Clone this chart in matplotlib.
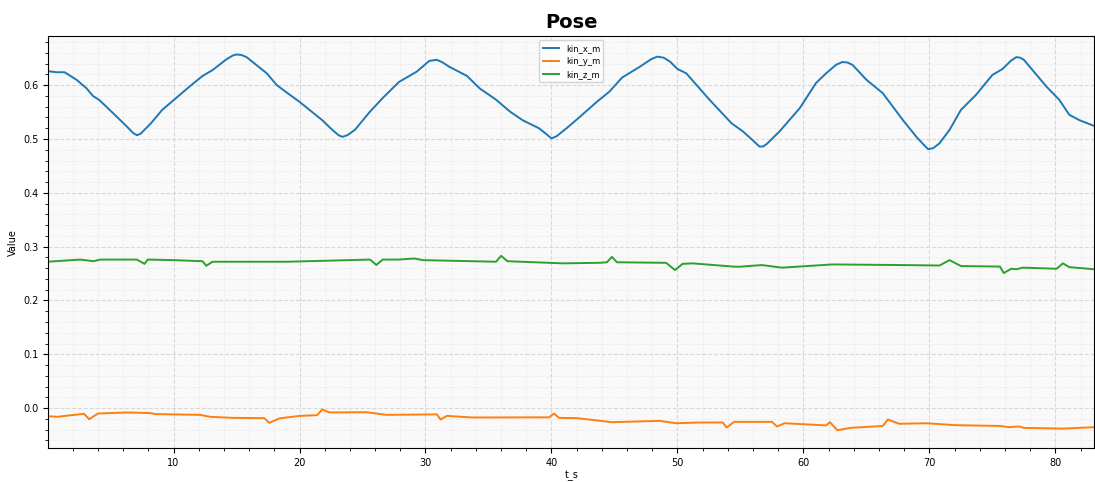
import matplotlib
matplotlib.use('Agg')
import matplotlib.pyplot as plt
from matplotlib.ticker import MultipleLocator

# kin_x_m
t_x = [0, 0.7, 1.35, 2.3, 3.1, 3.6, 4.1, 5.2, 6.3, 6.8, 7.1, 7.4, 8.2, 9.1, 10.2, 11.3, 12.3, 13.1,
       14.2, 14.7, 15.0, 15.4, 15.8, 17.4, 18.2, 19.0, 20.0, 21.8, 22.6, 23.1, 23.4, 23.8, 24.4,
       25.6, 26.6, 27.9, 29.3, 30.3, 30.9, 31.3, 31.9, 33.3, 34.3, 35.6, 36.7, 37.7, 39.0, 39.6,
       40.0, 40.4, 41.2, 42.2, 43.6, 44.6, 45.6, 47.0, 47.9, 48.4, 48.9, 49.4, 50.0, 50.7, 52.5,
       53.3, 54.3, 55.2, 56.1, 56.5, 56.8, 57.1, 58.1, 59.7, 61.0, 61.8, 62.6, 63.1, 63.5, 63.9,
       65.0, 66.3, 67.9, 69.0, 69.6, 69.9, 70.3, 70.8, 71.6, 72.5, 73.7, 75.0, 75.8, 76.5, 76.9,
       77.2, 77.5, 79.3, 80.3, 81.1, 81.9, 83.1]
kin_x_m = [0.626, 0.624, 0.624, 0.610, 0.594, 0.580, 0.5725, 0.548, 0.523, 0.511, 0.507, 0.510,
           0.529, 0.554, 0.576, 0.598, 0.617, 0.628, 0.648, 0.655, 0.657, 0.656, 0.652, 0.622,
           0.600, 0.586, 0.569, 0.535, 0.517, 0.507, 0.504, 0.507, 0.517, 0.551, 0.576, 0.606,
           0.625, 0.645, 0.647, 0.643, 0.634, 0.617, 0.594, 0.573, 0.551, 0.535, 0.520, 0.509,
           0.501, 0.505, 0.520, 0.540, 0.569, 0.588, 0.614, 0.634, 0.648, 0.653, 0.651, 0.644,
           0.630, 0.622, 0.574, 0.554, 0.529, 0.514, 0.495, 0.486, 0.486, 0.491, 0.514, 0.557,
           0.604, 0.622, 0.638, 0.643, 0.642, 0.6375, 0.610, 0.585, 0.535, 0.503, 0.488, 0.481,
           0.483, 0.492, 0.517, 0.554, 0.582, 0.619, 0.630, 0.646, 0.652, 0.651, 0.647, 0.597,
           0.573, 0.545, 0.535, 0.524]

# kin_y_m
t_y = [0, 0.8, 1.5, 2.9, 3.3, 4.0, 6.3, 8.1, 8.6, 12.1, 12.9, 14.7, 17.2, 17.6, 18.4, 20.0,
       21.4, 21.8, 22.4, 25.3, 26.9, 30.9, 31.2, 31.7, 33.7, 39.8, 40.2, 40.6, 42.0, 44.8, 48.6,
       49.9, 51.7, 53.6, 53.9, 54.5, 57.5, 57.9, 58.5, 61.8, 62.1, 62.7, 63.7, 66.3, 66.7, 67.6,
       69.8, 72.1, 75.6, 76.3, 77.1, 77.5, 80.6, 83.1]
kin_y_m = [-0.015, -0.016, -0.014, -0.0105, -0.0205, -0.0099, -0.008, -0.009, -0.011, -0.0124,
           -0.016, -0.018, -0.0185, -0.0273, -0.019, -0.0143, -0.013, -0.0025, -0.008, -0.0075,
           -0.0124, -0.0115, -0.021, -0.0143, -0.0173, -0.017, -0.0099, -0.018, -0.0185, -0.026,
           -0.0236, -0.028, -0.0266, -0.0266, -0.036, -0.0254, -0.0254, -0.034, -0.028, -0.032,
           -0.026, -0.041, -0.0366, -0.033, -0.021, -0.029, -0.028, -0.0316, -0.033, -0.0353,
           -0.034, -0.0366, -0.038, -0.0353]

# kin_z_m
t_z = [0, 2.6, 3.65, 4.2, 7.1, 7.7, 7.95, 10.0, 12.3, 12.6, 13.1, 19.0, 25.6, 26.1, 26.6, 27.9,
       29.1, 29.8, 35.6, 36.0, 36.5, 40.9, 43.8, 44.4, 44.8, 45.2, 49.1, 49.8, 50.4, 51.2, 54.4,
       54.9, 56.7, 58.3, 62.3, 67.1, 70.8, 71.6, 72.5, 75.6, 75.9, 76.5, 76.9, 77.4, 80.1, 80.6,
       81.1, 83.1]
kin_z_m = [0.272, 0.276, 0.273, 0.276, 0.276, 0.268, 0.276, 0.275, 0.273, 0.2645, 0.272, 0.272,
           0.276, 0.266, 0.276, 0.276, 0.278, 0.275, 0.272, 0.283, 0.273, 0.269, 0.270, 0.271,
           0.281, 0.271, 0.270, 0.2565, 0.268, 0.269, 0.263, 0.2627, 0.2658, 0.261, 0.267, 0.266,
           0.265, 0.275, 0.264, 0.263, 0.251, 0.259, 0.258, 0.261, 0.259, 0.269, 0.262, 0.258]

fig, ax = plt.subplots(figsize=(10.95, 4.82), dpi=100)
fig.subplots_adjust(left=0.044, right=0.9995, top=0.925, bottom=0.0705)

ax.plot(t_x, kin_x_m, label='kin_x_m', linewidth=1.4)
ax.plot(t_y, kin_y_m, label='kin_y_m', linewidth=1.4)
ax.plot(t_z, kin_z_m, label='kin_z_m', linewidth=1.4)

ax.set_facecolor('#f9f9f9')
ax.set_xlim(0.05, 83.1)
ax.set_ylim(-0.074, 0.691)
ax.xaxis.set_major_locator(MultipleLocator(10))
ax.xaxis.set_minor_locator(MultipleLocator(2))
ax.yaxis.set_major_locator(MultipleLocator(0.1))
ax.yaxis.set_minor_locator(MultipleLocator(0.02))
ax.grid(True, which='major', linestyle='--', color='#d8d8d8', linewidth=0.8)
ax.grid(True, which='minor', linestyle=':', color='#e2e2e2', linewidth=0.6)
ax.set_axisbelow(True)
ax.tick_params(labelsize=7)

ax.set_title('Pose', fontsize=14, fontweight='bold')
ax.set_xlabel('t_s', fontsize=7, labelpad=2)
ax.set_ylabel('Value', fontsize=7)
ax.legend(loc='upper center', fontsize=6)

fig.savefig('out.png')
